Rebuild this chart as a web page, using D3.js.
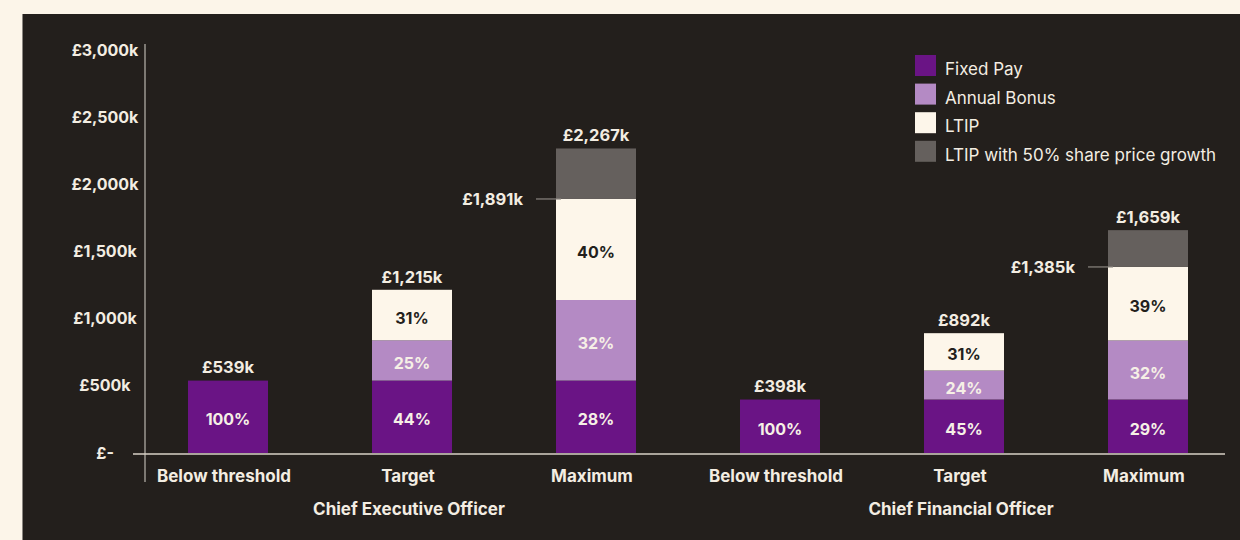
<!DOCTYPE html>
<html>
<head>
<meta charset="utf-8">
<script src="https://cdn.jsdelivr.net/npm/d3@7"></script>
<style>
  html, body { margin: 0; padding: 0; background: #fcf5e9; }
  svg { display: block; }
  text { font-family: Inter, "Open Sans", sans-serif; }
</style>
</head>
<body>
<svg id="chart" width="1240" height="540"></svg>
<script>
// Remuneration scenarios (£k)
const scenarios = ["Below threshold", "Target", "Maximum", "Below threshold", "Target", "Maximum"];
const roles = ["Chief Executive Officer", "Chief Financial Officer"];
const roleOf = [0, 0, 0, 1, 1, 1];

const fixedPay     = [539, 539, 539, 398, 398, 398];
const annualBonus  = [0, 300, 600, 0, 216, 440];
const ltip         = [0, 376, 752, 0, 278, 547];
const ltipGrowth   = [0, 0, 376, 0, 0, 274];

const totals       = [539, 1215, 1891, 398, 892, 1385];
const totalsGrowth = [null, null, 2267, null, null, 1659];

const pctFixed = ["100%", "44%", "28%", "100%", "45%", "29%"];
const pctBonus = ["", "25%", "32%", "", "24%", "32%"];
const pctLtip  = ["", "31%", "40%", "", "31%", "39%"];

const seriesNames = ["Fixed Pay", "Annual Bonus", "LTIP", "LTIP with 50% share price growth"];
const seriesColors = ["#6a1485", "#b48ac4", "#fdf6ea", "#65605d"];
const yTicks = [0, 500, 1000, 1500, 2000, 2500, 3000];

const svg = d3.select("#chart");
const W = 1240, H = 540;
const ink = "#f3ede2";

// dark panel
svg.append("rect").attr("x", 22).attr("y", 14).attr("width", W - 22).attr("height", H - 14)
  .attr("fill", "#231f1c");
svg.append("line").attr("x1", 22.5).attr("x2", 22.5).attr("y1", 14).attr("y2", H)
  .attr("stroke", "#8b8680").attr("stroke-width", 1);

const x = d3.scaleBand().domain(d3.range(scenarios.length)).range([136, 1240])
  .paddingInner(0.5652).paddingOuter(0.2826);
const y = d3.scaleLinear().domain([0, 3000]).range([453, 50]);

const fmtK = v => v === 0 ? "£-" : "£" + d3.format(",")(v) + "k";

// y axis labels
const yAxis = d3.axisLeft(y).tickValues(yTicks).tickFormat(fmtK).tickSize(0);
const gy = svg.append("g").attr("transform", "translate(105,0)").call(yAxis);
gy.select(".domain").remove();
gy.selectAll("text").attr("x", 0).attr("text-anchor", "middle")
  .attr("fill", ink).style("font-size", "16px").style("font-weight", 700)
  .style("font-family", "Inter, sans-serif");

// vertical axis line
svg.append("line").attr("x1", 145).attr("x2", 145).attr("y1", 44).attr("y2", 482)
  .attr("stroke", "#9d9890").attr("stroke-width", 1.5);

// stacked segments
const rows = scenarios.map((s, i) => ({ i, a: fixedPay[i], b: annualBonus[i], c: ltip[i], d: ltipGrowth[i] }));
const stack = d3.stack().keys(["a", "b", "c", "d"])(rows);

const gBars = svg.append("g");
stack.forEach((layer, li) => {
  gBars.selectAll(null).data(layer.filter(d => d[1] > d[0])).enter().append("rect")
    .attr("x", d => x(d.data.i))
    .attr("width", x.bandwidth())
    .attr("y", d => y(d[1]))
    .attr("height", d => y(d[0]) - y(d[1]))
    .attr("fill", seriesColors[li]);
});

// baseline
svg.append("line").attr("x1", 133).attr("x2", 1225).attr("y1", 454).attr("y2", 454)
  .attr("stroke", "#d8d2c6").attr("stroke-width", 1.5);

// percentage labels inside segments
const pctLayers = [pctFixed, pctBonus, pctLtip];
const pctColors = ["#f6f0e6", "#f6f0e6", "#231f1c"];
pctLayers.forEach((arr, li) => {
  stack[li].forEach(d => {
    const txt = arr[d.data.i];
    if (!txt) return;
    svg.append("text")
      .attr("x", x(d.data.i) + x.bandwidth() / 2)
      .attr("y", (y(d[0]) + y(d[1])) / 2 + 3)
      .attr("dy", "0.35em")
      .attr("text-anchor", "middle")
      .attr("fill", pctColors[li])
      .style("font-size", "16px").style("font-weight", 700)
      .text(txt);
  });
});

// total labels above bars
scenarios.forEach((s, i) => {
  const top = totalsGrowth[i] != null ? totalsGrowth[i] : totals[i];
  svg.append("text")
    .attr("x", x(i) + x.bandwidth() / 2)
    .attr("y", y(top) - 13)
    .attr("dy", "0.35em")
    .attr("text-anchor", "middle")
    .attr("fill", ink)
    .style("font-size", "16.5px").style("font-weight", 700)
    .text(fmtK(top));
  if (totalsGrowth[i] != null) {
    const yy = y(totals[i]);
    svg.append("line").attr("x1", x(i) - 20).attr("x2", x(i) + 5)
      .attr("y1", yy).attr("y2", yy).attr("stroke", "#8b8680").attr("stroke-width", 1.2);
    svg.append("text")
      .attr("x", x(i) - 33).attr("y", yy).attr("dy", "0.35em")
      .attr("text-anchor", "end").attr("fill", ink)
      .style("font-size", "16.5px").style("font-weight", 700)
      .text(fmtK(totals[i]));
  }
});

// category labels
scenarios.forEach((s, i) => {
  svg.append("text")
    .attr("x", x(i) + x.bandwidth() / 2 - 4).attr("y", 476).attr("dy", "0.35em")
    .attr("text-anchor", "middle").attr("fill", ink)
    .style("font-size", "17px").style("font-weight", 700)
    .text(s);
});
roles.forEach((r, ri) => {
  const mid = roleOf.indexOf(ri) + 1;
  svg.append("text")
    .attr("x", x(mid) + x.bandwidth() / 2 - 3).attr("y", 509).attr("dy", "0.35em")
    .attr("text-anchor", "middle").attr("fill", ink)
    .style("font-size", "17px").style("font-weight", 700)
    .text(r);
});

// legend
const lg = svg.append("g").attr("transform", "translate(915,55)");
seriesNames.forEach((n, i) => {
  const g = lg.append("g").attr("transform", `translate(0,${i * 28.6})`);
  g.append("rect").attr("width", 21).attr("height", 21).attr("fill", seriesColors[i]);
  g.append("text").attr("x", 30).attr("y", 14).attr("dy", "0.35em")
    .attr("fill", ink).style("font-size", "17px").style("font-weight", 400)
    .text(n);
});
</script>
</body>
</html>
